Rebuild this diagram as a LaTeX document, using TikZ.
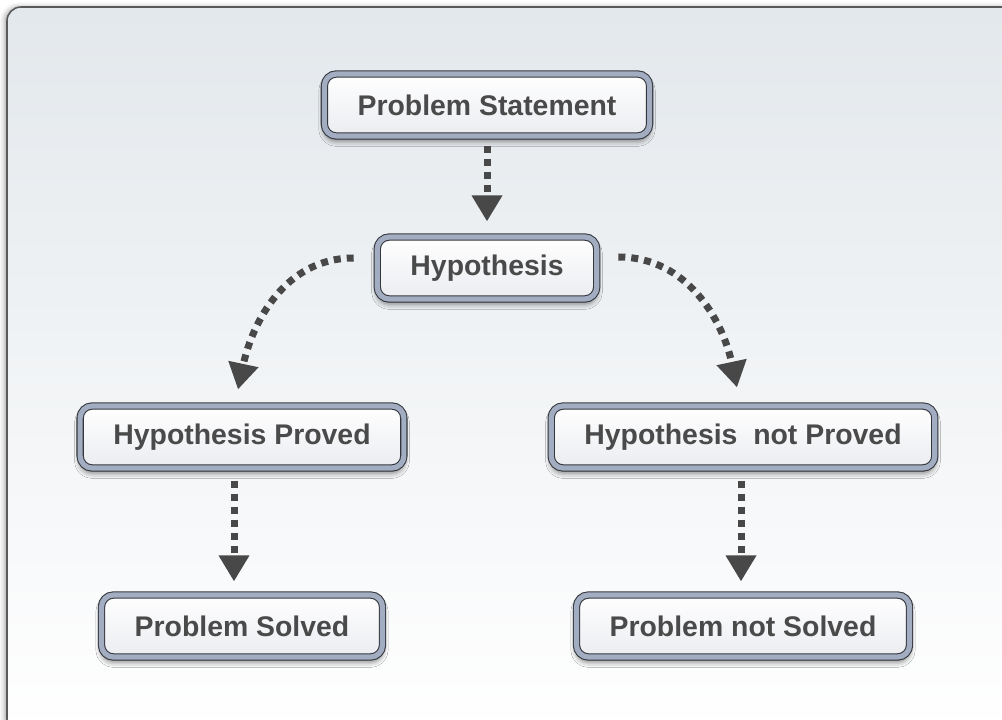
\documentclass[tikz,border=0pt]{standalone}
\usepackage{fontspec}
\setmainfont{Liberation Sans}
\usetikzlibrary{arrows.meta,shadows.blur}
\definecolor{textgrey}{HTML}{4A4A4A}
\definecolor{arrowgrey}{HTML}{484848}
\definecolor{boxline}{HTML}{33363C}
\definecolor{boxband}{HTML}{A3ADC1}
\definecolor{boxlow}{HTML}{EAECF0}
\definecolor{frametop}{HTML}{E3E8EC}
\definecolor{framegrey}{HTML}{5A5A5A}
\tikzset{
  stepbox/.style={rounded corners=0.3cm, draw=boxline, line width=0.75pt,
    double=boxband, double distance=0.13cm, top color=white, bottom color=boxlow,
    text=textgrey, font=\fontsize{20.2}{24}\selectfont\bfseries,
    inner xsep=0.83cm, inner ysep=0pt, minimum height=1.55cm,
    blur shadow={shadow xshift=0pt, shadow yshift=-0.12cm, shadow blur radius=0.14cm, shadow opacity=55}},
  flow/.style={arrowgrey, line width=0.175cm, dash pattern=on 0.175cm off 0.15cm,
    -{Triangle[width=0.725cm,length=0.65cm]}},
  framebox/.style={draw=framegrey, line width=1.1pt, rounded corners=0.35cm,
    top color=frametop, bottom color=white,
    blur shadow={shadow xshift=-0.06cm, shadow yshift=0pt, shadow blur radius=0.12cm, shadow opacity=35}}
}
\begin{document}
\begin{tikzpicture}[x=0.025cm,y=0.025cm]
    \useasboundingbox (0,0) rectangle (1002,719);
    \draw[framebox] (7,-14) rectangle (1020,712);
    \node (ps) at (487,614) [stepbox] {Problem Statement};
    \node (hyp) at (487,451) [stepbox] {Hypothesis};
    \node (hp) at (242,282) [stepbox] {Hypothesis Proved};
    \node (hnp) at (743,282) [stepbox] {Hypothesis~ not Proved};
    \node (psolved) at (242,93) [stepbox] {Problem Solved};
    \node (pnsolved) at (743,93) [stepbox] {Problem not Solved};
    \draw[flow, shorten <=0.225cm, shorten >=0.375cm] (ps) -- (hyp);
    \draw[flow] ([shift={(-23,10)}]hyp.west) to[out=180,in=78] ([shift={(-4,16)}]hp.north);
    \draw[flow] ([shift={(21,11)}]hyp.east) to[out=0,in=102] ([shift={(-6,18)}]hnp.north);
    \draw[flow] ([shift={(-8,-12)}]hp.south) -- ([shift={(-8,13)}]psolved.north);
    \draw[flow] ([shift={(-2,-12)}]hnp.south) -- ([shift={(-2,13)}]pnsolved.north);
\end{tikzpicture}
\end{document}
